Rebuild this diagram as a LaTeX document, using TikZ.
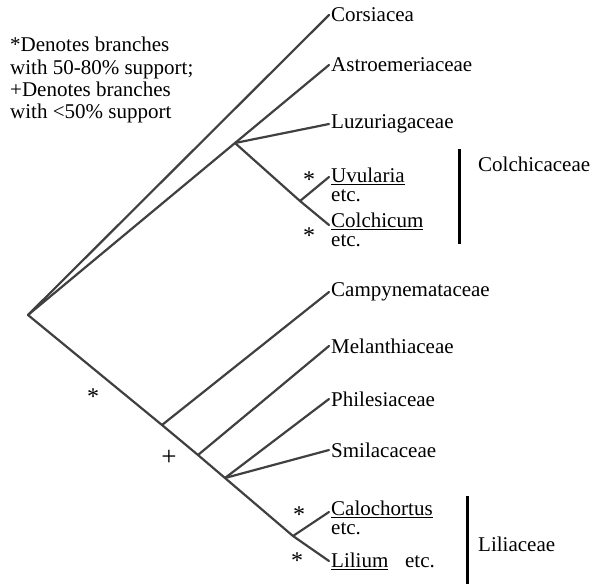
\documentclass[tikz,border=0pt]{standalone}
\usepackage{fontspec}
\setmainfont{Liberation Serif}
\usetikzlibrary{calc}

\begin{document}
\begin{tikzpicture}[x=1pt,y=-1pt,
	branch/.style={line width=2.2pt,color=black!75,line cap=round},
	taxon/.style={anchor=west,inner sep=2pt,font=\fontsize{21}{19}\selectfont},
	pair/.style={taxon,anchor=north west,align=left},
	family/.style={line width=3pt},
	support/.style={inner sep=0pt,font=\fontsize{24}{24}\selectfont}]
				\useasboundingbox (0,0) rectangle (603,584);
				\def\tipx{329}      %x of the tips.
				
				% Define coordinates of the internal nodes.
				\coordinate (root) at (28,315);
				\coordinate (nluz) at (235,143);
				\coordinate (ncol) at (300,201);
				\coordinate (ncam) at (162,425);
				\coordinate (nmel) at (198,455);
				\coordinate (nphs) at (225,478);
				\coordinate (nlil) at (293,536);
				
				% Taxa.
				\node[taxon] (cor) at (\tipx,15) {Corsiacea};
				\node[taxon] (ast) at (\tipx,65) {Astroemeriaceae};
				\node[taxon] (luz) at (\tipx,124) {Luzuriagaceae};
				\node[pair] (uvu) at (\tipx,166) {\underline{Uvularia}\\etc.};
				\node[pair] (col) at (\tipx,211) {\underline{Colchicum}\\etc.};
				\node[taxon] (cam) at (\tipx,292) {Campynemataceae};
				\node[taxon] (mel) at (\tipx,346) {Melanthiaceae};
				\node[taxon] (phi) at (\tipx,399) {Philesiaceae};
				\node[taxon] (smi) at (\tipx,450) {Smilacaceae};
				\node[pair] (cal) at (\tipx,499) {\underline{Calochortus}\\etc.};
				\node[taxon] (lil) at (\tipx,561) {\underline{Lilium}\hspace{0.8em}etc.};
				
				% Tips of the two-line taxa.
				\coordinate (uvutip) at ($(uvu.north west)+(0,11)$);
				\coordinate (coltip) at ($(col.north west)+(0,14)$);
				\coordinate (caltip) at ($(cal.north west)+(0,13)$);
				
				% Branches.
				\draw[branch] (root) -- (cor.west);
				\draw[branch] (root) -- (nluz) -- (ast.west);
				\draw[branch] (nluz) -- (luz.west);
				\draw[branch] (nluz) -- (ncol) -- (coltip);
				\draw[branch] (ncol) -- (uvutip);
				\draw[branch] (root) -- (ncam) -- (nmel) -- (nphs) -- (nlil) -- (lil.west);
				\draw[branch] (ncam) -- (cam.west);
				\draw[branch] (nmel) -- (mel.west);
				\draw[branch] (nphs) -- (phi.west);
				\draw[branch] (nphs) -- (smi.west);
				\draw[branch] (nlil) -- (caltip);
				
				% Support marks.
				\node[support] (s1) at (309,180) {*};
				\node[support] (s2) at (309,236) {*};
				\node[support] (s3) at (93,397) {*};
				\node[support] (s4) at (299,515) {*};
				\node[support] (s5) at (297,561) {*};
				\node[support,font=\fontsize{27}{27}\selectfont] (p1) at (169,458) {+};
				
				% Families.
				\coordinate (colt) at (459,149);
				\coordinate (colb) at (459,244);
				\draw[family] (colt) -- (colb);
				\node[taxon,inner sep=0pt] (colname) at (478,164) {Colchicaceae};
				\coordinate (lilt) at (467,496);
				\coordinate (lilb) at (467,584);
				\draw[family] (lilt) -- (lilb);
				\node[taxon,inner sep=0pt] (lilname) at (478,544) {Liliaceae};
				
				% Key.
				\node[anchor=north west,align=left,inner sep=0pt,font=\fontsize{21}{22.3}\selectfont] (key) at (10,37) {*Denotes branches\\with 50-80\%\ support;\\+Denotes branches\\with <50\%\ support};
				
\end{tikzpicture}
\end{document}
